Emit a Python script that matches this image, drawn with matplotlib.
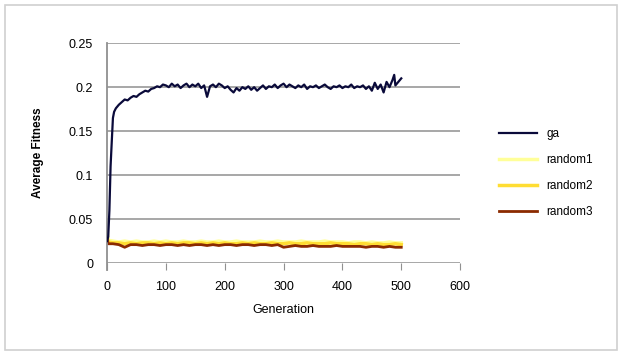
import matplotlib.pyplot as plt

# ga series
ga_gen = [0, 2, 4, 6, 8, 10, 12] + list(range(15, 486, 5)) + [488, 490, 495, 500]
ga_val = [0.025, 0.03, 0.06, 0.11, 0.138, 0.165, 0.172,
          0.176, 0.18, 0.183, 0.186, 0.185, 0.188, 0.19, 0.189, 0.192, 0.194,
          0.196, 0.195, 0.198, 0.199, 0.201, 0.2, 0.203, 0.202, 0.2, 0.204,
          0.201, 0.203, 0.199, 0.202, 0.204, 0.2, 0.203, 0.201, 0.204, 0.199,
          0.202, 0.189, 0.201, 0.203, 0.2, 0.204, 0.202, 0.199, 0.201, 0.197,
          0.194, 0.199, 0.196, 0.2, 0.198, 0.201, 0.197, 0.2, 0.196, 0.199,
          0.202, 0.198, 0.201, 0.2, 0.203, 0.199, 0.202, 0.204, 0.2, 0.203,
          0.201, 0.199, 0.202, 0.2, 0.203, 0.198, 0.201, 0.2, 0.202, 0.199,
          0.201, 0.203, 0.2, 0.198, 0.201, 0.2, 0.202, 0.199, 0.201, 0.2,
          0.203, 0.199, 0.201, 0.2, 0.202, 0.198, 0.201, 0.196, 0.205, 0.198,
          0.203, 0.194, 0.206, 0.2, 0.208,
          0.214, 0.202, 0.206, 0.21]

# random series, every 10 generations
rnd_gen = [0, 2] + list(range(10, 501, 10))
random1 = [0.036, 0.026, 0.025, 0.024, 0.025, 0.024, 0.025, 0.024, 0.024, 0.025,
           0.024, 0.025, 0.024, 0.024, 0.025, 0.024, 0.024, 0.025, 0.024, 0.024,
           0.025, 0.024, 0.024, 0.025, 0.024, 0.024, 0.024, 0.025, 0.024, 0.024,
           0.025, 0.024, 0.024, 0.024, 0.025, 0.024, 0.024, 0.024, 0.025, 0.024,
           0.024, 0.024, 0.023, 0.024, 0.024, 0.023, 0.024, 0.023, 0.023, 0.024,
           0.023, 0.023]
random2 = [0.03, 0.024, 0.023, 0.023, 0.022, 0.023, 0.022, 0.023, 0.023, 0.022,
           0.023, 0.022, 0.023, 0.022, 0.023, 0.023, 0.022, 0.023, 0.022, 0.023,
           0.022, 0.023, 0.022, 0.022, 0.023, 0.022, 0.023, 0.022, 0.022, 0.023,
           0.022, 0.022, 0.023, 0.022, 0.022, 0.023, 0.022, 0.022, 0.022, 0.023,
           0.022, 0.022, 0.022, 0.021, 0.022, 0.022, 0.021, 0.022, 0.021, 0.021,
           0.022, 0.021]
random3 = [0.028, 0.022, 0.022, 0.021, 0.018, 0.021, 0.021, 0.02, 0.021, 0.021,
           0.02, 0.021, 0.021, 0.02, 0.021, 0.02, 0.021, 0.021, 0.02, 0.021,
           0.02, 0.021, 0.021, 0.02, 0.021, 0.021, 0.02, 0.021, 0.021, 0.02,
           0.021, 0.018, 0.019, 0.02, 0.019, 0.019, 0.02, 0.019, 0.019, 0.019,
           0.02, 0.019, 0.019, 0.019, 0.019, 0.018, 0.019, 0.019, 0.018, 0.019,
           0.018, 0.018]

y_ticks = [0, 0.05, 0.1, 0.15, 0.2, 0.25]
y_tick_labels = ['0', '0.05', '0.1', '0.15', '0.2', '0.25']
x_ticks = [0, 100, 200, 300, 400, 500, 600]

plt.rcParams['font.family'] = ['Liberation Sans', 'DejaVu Sans']

fig = plt.figure(figsize=(6.26, 3.57), dpi=100)
fig.patch.set_facecolor('white')
# light outer border like the Excel chart area
fig.add_artist(plt.Rectangle((0.008, 0.02), 0.978, 0.965, transform=fig.transFigure,
                             fill=False, edgecolor='#d0d0d0', linewidth=1.2))

ax = fig.add_axes([0.171, 0.263, 0.564, 0.616])

ax.plot(rnd_gen, random1, color='#ffff99', linewidth=2.5, label='random1')
ax.plot(rnd_gen, random2, color='#ffdd33', linewidth=2.5, label='random2')
ax.plot(rnd_gen, random3, color='#8b2a00', linewidth=2, label='random3')
ax.plot(ga_gen, ga_val, color='#0a0a3a', linewidth=1.6, label='ga', zorder=5)

ax.set_xlim(0, 600)
ax.set_ylim(0, 0.25)
ax.set_yticks(y_ticks)
ax.set_yticklabels(y_tick_labels)
ax.set_xticks(x_ticks)
ax.yaxis.grid(True, color='#a0a0a0', linewidth=1.3)
ax.set_axisbelow(True)

for s in ['top', 'right', 'bottom']:
    ax.spines[s].set_visible(False)
ax.spines['left'].set_color('#909090')
ax.spines['left'].set_linewidth(1.3)
ax.spines['left'].set_bounds(-0.008, 0.25)
ax.tick_params(axis='y', length=0, labelsize=9, pad=10)
ax.tick_params(axis='x', direction='out', length=5, color='#909090',
               labelsize=9, pad=8)

ax.set_xlabel('Generation', fontsize=9, labelpad=8)
ax.set_ylabel('Average Fitness', fontsize=8.5, labelpad=18, fontweight='bold')

handles, labels = ax.get_legend_handles_labels()
order = [3, 0, 1, 2]
ax.legend([handles[i] for i in order], [labels[i] for i in order],
          loc='center left', bbox_to_anchor=(1.08, 0.41), frameon=False,
          fontsize=8.5, handlelength=3.2, labelspacing=1.2)

fig.savefig('out.png', dpi=100, facecolor='white')
